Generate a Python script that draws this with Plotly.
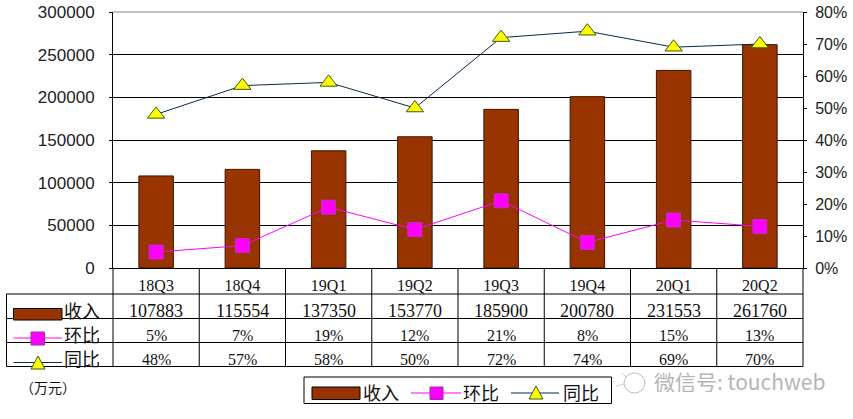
import plotly.graph_objects as go

quarters = ["18Q3", "18Q4", "19Q1", "19Q2", "19Q3", "19Q4", "20Q1", "20Q2"]
revenue = [107883, 115554, 137350, 153770, 185900, 200780, 231553, 261760]
qoq = [5, 7, 19, 12, 21, 8, 15, 13]
yoy = [48, 57, 58, 50, 72, 74, 69, 70]
left_ticks = [0, 50000, 100000, 150000, 200000, 250000, 300000]
right_ticks = [0, 10, 20, 30, 40, 50, 60, 70, 80]

BAR = "#993300"
MAGENTA = "#FF00FF"
NAVY = "#0A2A4A"
YELLOW = "#FFFF00"
SERIF = "Liberation Serif, Noto Sans CJK SC"
SANS = "Liberation Sans, Noto Sans CJK SC"
CJK = "Noto Sans CJK SC"

W, H = 853, 419
L, R, T, B = 113, 803, 12, 268


def px(x):
    return (x - L) / (R - L)


def py(y):
    return (B - y) / (B - T)


shapes = []
annotations = []


def line(x0, y0, x1, y1, color="black", width=1):
    shapes.append(dict(type="line", xref="paper", yref="paper", x0=px(x0), x1=px(x1),
                       y0=py(y0), y1=py(y1), line=dict(color=color, width=width)))


def rect(x0, y0, x1, y1, fill, color="black", width=1):
    shapes.append(dict(type="rect", xref="paper", yref="paper", x0=px(x0), x1=px(x1),
                       y0=py(y0), y1=py(y1), fillcolor=fill, line=dict(color=color, width=width)))


def tri(cx, cy):
    # legend key triangle, drawn as a small closed path
    path = f"M{px(cx)},{py(cy - 7)} L{px(cx + 7)},{py(cy + 6)} L{px(cx - 7)},{py(cy + 6)} Z"
    shapes.append(dict(type="path", xref="paper", yref="paper", path=path,
                       fillcolor=YELLOW, line=dict(color="#3A5A10", width=1)))


def label(x, y, text, size=16, family=SERIF, color="#111111", anchor="center", height=None):
    annotations.append(dict(xref="paper", yref="paper", x=px(x), y=py(y), text=text, showarrow=False, height=height,
                            xanchor=anchor, yanchor="middle", font=dict(size=size, family=family, color=color)))


def cell(q, y, text, size):
    annotations.append(dict(xref="x", yref="paper", x=q, y=py(y), text=text, showarrow=False, height=size + 2,
                            yanchor="middle", font=dict(size=size, family=SERIF, color="#111111")))


# top edge of the plot is grey in the original
line(L, T, R, T, "#808080")

# data table under the chart
row_y = [294, 318.5, 342.5, 366.5]
col_x = [L + (R - L) * i / len(quarters) for i in range(len(quarters) + 1)]
for x in col_x:
    line(x, 268, x, 366.5)
line(6.5, 294, 6.5, 366.5)
for y in row_y:
    line(6.5, y, R, y)

for i, q in enumerate(quarters):
    cell(q, 311, str(revenue[i]), 18)
    cell(q, 335, f"{qoq[i]}%", 16)
    cell(q, 359, f"{yoy[i]}%", 16)

# row keys
rect(13.5, 308.5, 62, 320, BAR)
label(82, 310, "收入", 18, CJK, height=20)
line(13.5, 338, 62, 338, MAGENTA)
rect(31, 332, 44.5, 345, MAGENTA, "#A030A0")
label(82, 334, "环比", 18, CJK, height=20)
line(13.5, 362.5, 62, 362.5, NAVY)
tri(38, 363)
label(82, 358, "同比", 18, CJK, height=20)
label(48, 387, "（万元）", 14, CJK)

# legend box
rect(304, 377, 611.5, 403.5, "white")
rect(312, 387, 360, 399.5, BAR)
label(381, 392, "收入", 18, CJK)
line(411, 393, 461, 393, MAGENTA)
rect(430, 387, 443, 399.5, MAGENTA, "#A030A0")
label(481, 392, "环比", 18, CJK)
line(511, 393, 559, 393, NAVY)
tri(536, 393)
label(581, 392, "同比", 18, CJK)

# watermark
shapes.append(dict(type="circle", xref="paper", yref="paper", x0=px(624), x1=px(645), y0=py(393), y1=py(373),
                   line=dict(color="#BBBBBB", width=1)))
line(616, 386, 624, 384, "#CCCCCC")
line(622, 373, 627, 378, "#CCCCCC")
label(739, 381, "微信号: touchweb", 21, CJK, "#B5B5B5", height=22)

fig = go.Figure()
fig.add_trace(go.Bar(x=quarters, y=revenue, name="收入", width=0.4, marker=dict(color=BAR, line=dict(color="#3A1500", width=1))))
fig.add_trace(go.Scatter(x=quarters, y=qoq, name="环比", yaxis="y2", mode="lines+markers",
                         line=dict(color=MAGENTA, width=1),
                         marker=dict(symbol="square", size=14, color=MAGENTA, line=dict(color="#C030C0", width=1))))
fig.add_trace(go.Scatter(x=quarters, y=yoy, name="同比", yaxis="y2", mode="lines+markers",
                         line=dict(color=NAVY, width=1),
                         marker=dict(symbol="triangle-up", size=15, color=YELLOW, line=dict(color="#3A5A10", width=1))))

fig.update_layout(
    width=W, height=H, showlegend=False, plot_bgcolor="white", paper_bgcolor="white",
    margin=dict(l=L, r=W - R, t=T, b=H - B, pad=0, autoexpand=False),
    shapes=shapes, annotations=annotations,
    xaxis=dict(type="category", range=[-0.5, 7.5], showgrid=False, showline=True, linecolor="black", ticks="",
               automargin=False, tickfont=dict(size=16, family=SERIF, color="#111111"), ticklabelstandoff=3),
    yaxis=dict(range=[0, 300000], tickmode="array", tickvals=left_ticks, ticktext=[str(v) for v in left_ticks],
               showgrid=True, gridcolor="black", gridwidth=1, zeroline=False, automargin=False,
               showline=True, linecolor="black", ticks="outside", ticklen=3, tickcolor="black",
               ticklabeloverflow="allow", tickfont=dict(size=17, family=SANS, color="#222222"), ticklabelstandoff=11),
    yaxis2=dict(range=[0, 80], tickmode="array", tickvals=right_ticks, ticktext=[f"{v}%" for v in right_ticks],
                overlaying="y", side="right", showgrid=False, automargin=False,
                zeroline=False, showline=True, linecolor="black", ticks="outside", ticklen=3, tickcolor="black",
                ticklabeloverflow="allow", tickfont=dict(size=16, family=SANS, color="#222222"), ticklabelstandoff=5),
)

# the page body has an 8px margin by default, drop it so the figure fills the window
fig.write_html("out.html", config={"displayModeBar": False}, post_script="document.body.style.margin = '0';")
